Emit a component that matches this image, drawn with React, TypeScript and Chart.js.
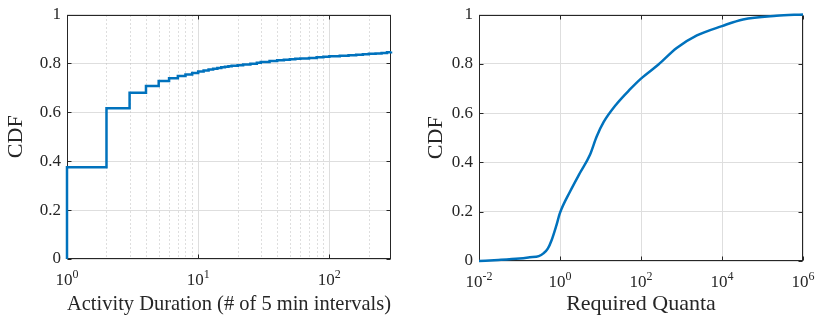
import React, { useEffect, useRef } from 'react';
import { Chart, registerables } from 'chart.js';

Chart.register(...registerables);

const FONT = "'Liberation Serif', 'Times New Roman', serif";
const TEXT = '#262626';
const LINE = '#0072BD';
const GRID = '#dedede';
const MINOR = '#bdbdbd';

// ---- Left panel: Activity Duration ----
const durationX = [1, 1, 2, 3, 4, 5, 6, 7, 8, 9, 10, 11, 12, 13, 14, 15, 16, 17, 18, 20, 22, 25, 28, 30, 35, 40, 45, 50, 55, 60, 70, 80, 90, 100, 120, 140, 160, 180, 200, 225, 250, 275, 295];
const durationCDF = [0, 0.375, 0.617, 0.68, 0.708, 0.728, 0.739, 0.748, 0.755, 0.761, 0.767, 0.771, 0.775, 0.778, 0.781, 0.784, 0.786, 0.788, 0.79, 0.792, 0.795, 0.799, 0.803, 0.806, 0.81, 0.813, 0.815, 0.817, 0.819, 0.82, 0.822, 0.825, 0.827, 0.829, 0.831, 0.833, 0.835, 0.837, 0.839, 0.841, 0.843, 0.846, 0.849];
const durationMajorTicks = [1, 10, 100];
const durationMinorTicks = [2, 3, 4, 5, 6, 7, 8, 9, 20, 30, 40, 50, 60, 70, 80, 90, 200];
const durationRange = [1, 295];

// ---- Right panel: Required Quanta ----
const quantaX = [0.01, 0.03, 0.1, 0.18, 0.3, 0.39, 0.5, 0.62, 0.8, 1, 1.8, 3.1, 5.5, 8, 12, 25, 54, 100, 270, 760, 2400, 10000, 33000, 220000, 1000000];
const quantaCDF = [0, 0.004, 0.01, 0.015, 0.02, 0.031, 0.05, 0.084, 0.14, 0.195, 0.284, 0.357, 0.431, 0.504, 0.564, 0.637, 0.697, 0.74, 0.797, 0.864, 0.915, 0.953, 0.98, 0.995, 1.0];
const quantaMajorTicks = [0.01, 1, 100, 10000, 1000000];
const quantaMinorTicks: number[] = [];
const quantaRange = [0.01, 1000000];

const yTickValues = [0, 0.2, 0.4, 0.6, 0.8, 1];
const yTickLabels = ['0', '0.2', '0.4', '0.6', '0.8', '1'];

type PanelCfg = {
  xs: number[];
  ys: number[];
  range: number[];
  majorTicks: number[];
  minorTicks: number[];
  stepped: boolean;
  xTitle: string;
  padTop: number;
  padRight: number;
  yWidth: number;
  xHeight: number;
  yTitlePad: number;
};

function makeAxesPlugin(cfg: PanelCfg) {
  return {
    id: 'matlabAxes',
    beforeDatasetsDraw(chart: any) {
      const { ctx, chartArea: a, scales } = chart;
      const xs = scales.x;
      const ys = scales.y;
      const L = Math.round(a.left) + 0.5;
      const R = Math.round(a.right) - 0.5;
      const T = Math.round(a.top) + 0.5;
      const B = Math.round(a.bottom) - 0.5;
      ctx.save();
      ctx.lineWidth = 1;
      // minor dotted grid
      ctx.strokeStyle = MINOR;
      ctx.setLineDash([1, 3]);
      for (const v of cfg.minorTicks) {
        const px = Math.round(xs.getPixelForValue(v)) + 0.5;
        ctx.beginPath();
        ctx.moveTo(px, T);
        ctx.lineTo(px, B);
        ctx.stroke();
      }
      ctx.setLineDash([]);
      // major grid
      ctx.strokeStyle = GRID;
      for (const v of cfg.majorTicks) {
        const px = Math.round(xs.getPixelForValue(v)) + 0.5;
        ctx.beginPath();
        ctx.moveTo(px, T);
        ctx.lineTo(px, B);
        ctx.stroke();
      }
      // frame
      ctx.strokeStyle = TEXT;
      ctx.strokeRect(L, T, R - L, B - T);
      // inward tick marks
      const tl = 4;
      ctx.beginPath();
      for (const v of yTickValues) {
        const py = Math.round(ys.getPixelForValue(v)) + 0.5;
        ctx.moveTo(L, py);
        ctx.lineTo(L + tl, py);
        ctx.moveTo(R, py);
        ctx.lineTo(R - tl, py);
      }
      for (const v of cfg.majorTicks) {
        const px = Math.round(xs.getPixelForValue(v)) + 0.5;
        ctx.moveTo(px, B);
        ctx.lineTo(px, B - tl);
        ctx.moveTo(px, T);
        ctx.lineTo(px, T + tl);
      }
      ctx.stroke();
      ctx.restore();
    },
    afterDraw(chart: any) {
      const { ctx, chartArea: a, scales } = chart;
      const xs = scales.x;
      ctx.save();
      ctx.fillStyle = TEXT;
      ctx.textBaseline = 'alphabetic';
      ctx.textAlign = 'left';
      const baseFont = `17px ${FONT}`;
      const supFont = `12px ${FONT}`;
      for (const v of cfg.majorTicks) {
        const e = String(Math.round(Math.log10(v)));
        const px = xs.getPixelForValue(v);
        ctx.font = baseFont;
        const wb = ctx.measureText('10').width;
        ctx.font = supFont;
        const we = ctx.measureText(e).width;
        const x0 = px - (wb + we) / 2;
        ctx.font = baseFont;
        ctx.fillText('10', x0, a.bottom + 26);
        ctx.font = supFont;
        ctx.fillText(e, x0 + wb, a.bottom + 19);
      }
      ctx.restore();
    },
  };
}

function Panel({ cfg, left }: { cfg: PanelCfg; left: number }) {
  const ref = useRef<HTMLCanvasElement>(null);
  useEffect(() => {
    const canvas = ref.current;
    if (!canvas) return;
    const data = cfg.xs.map((x, i) => ({ x, y: cfg.ys[i] }));
    const chart = new Chart(canvas, {
      type: 'scatter',
      data: {
        datasets: [
          {
            data,
            showLine: true,
            borderColor: LINE,
            backgroundColor: LINE,
            borderWidth: 2.5,
            pointRadius: 0,
            pointHoverRadius: 0,
            fill: false,
            stepped: cfg.stepped ? 'before' : false,
            cubicInterpolationMode: cfg.stepped ? 'default' : 'monotone',
            clip: 4,
          } as any,
        ],
      },
      options: {
        responsive: false,
        maintainAspectRatio: false,
        animation: false,
        devicePixelRatio: 1,
        events: [],
        layout: { padding: { top: cfg.padTop, right: cfg.padRight, left: 0, bottom: 0 } },
        plugins: {
          legend: { display: false },
          tooltip: { enabled: false },
        },
        scales: {
          x: {
            type: 'logarithmic',
            min: cfg.range[0],
            max: cfg.range[1],
            grid: { display: false },
            border: { display: false },
            ticks: { display: false },
            title: {
              display: true,
              text: cfg.xTitle,
              color: TEXT,
              font: { family: FONT, size: 22, lineHeight: 1.2 },
              padding: { top: 0, bottom: 4 },
            },
            afterFit: (s: any) => {
              s.height = cfg.xHeight;
            },
          },
          y: {
            type: 'linear',
            min: 0,
            max: 1,
            afterBuildTicks: (s: any) => {
              s.ticks = yTickValues.map((value) => ({ value }));
            },
            grid: { color: GRID, lineWidth: 1, drawTicks: false },
            border: { display: false },
            ticks: {
              color: TEXT,
              padding: 6,
              font: { family: FONT, size: 17, lineHeight: 1 },
              callback: (_v: any, i: number) => yTickLabels[i],
            },
            title: {
              display: true,
              text: 'CDF',
              color: TEXT,
              font: { family: FONT, size: 22, lineHeight: 1.2 },
              padding: { top: cfg.yTitlePad, bottom: 0 },
            },
            afterFit: (s: any) => {
              s.width = cfg.yWidth;
            },
          },
        },
      } as any,
      plugins: [makeAxesPlugin(cfg)],
    });
    return () => chart.destroy();
  }, [cfg]);
  return (
    <canvas
      ref={ref}
      width={411}
      height={321}
      style={{ position: 'absolute', left, top: 0, width: 411, height: 321, display: 'block' }}
    />
  );
}

const leftCfg: PanelCfg = {
  xs: durationX,
  ys: durationCDF,
  range: durationRange,
  majorTicks: durationMajorTicks,
  minorTicks: durationMinorTicks,
  stepped: true,
  xTitle: 'Activity Duration (# of 5 min intervals)',
  padTop: 10,
  padRight: 20,
  yWidth: 67,
  xHeight: 62,
  yTitlePad: 3,
};

const rightCfg: PanelCfg = {
  xs: quantaX,
  ys: quantaCDF,
  range: quantaRange,
  majorTicks: quantaMajorTicks,
  minorTicks: quantaMinorTicks,
  stepped: false,
  xTitle: 'Required Quanta',
  padTop: 11,
  padRight: 19,
  yWidth: 68,
  xHeight: 60,
  yTitlePad: 12,
};

export default function App() {
  return (
    <div style={{ position: 'absolute', left: 0, top: 0, width: 822, height: 321, background: '#fff', overflow: 'hidden' }}>
      <Panel cfg={leftCfg} left={0} />
      <Panel cfg={rightCfg} left={411} />
    </div>
  );
}
